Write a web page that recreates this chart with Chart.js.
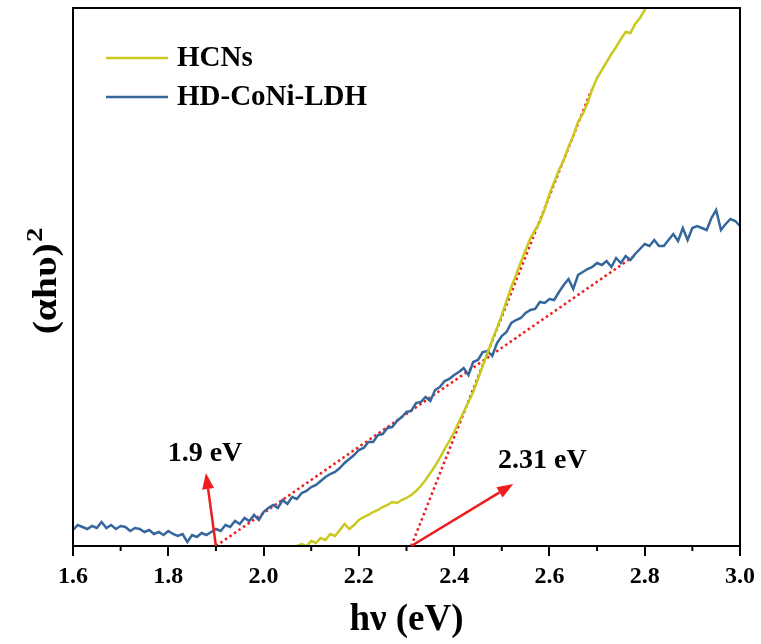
<!DOCTYPE html>
<html>
<head>
<meta charset="utf-8">
<script src="https://cdn.jsdelivr.net/npm/chart.js@4.4.1/dist/chart.umd.min.js"></script>
<style>
  html, body { margin: 0; padding: 0; background: #fff; }
  canvas { display: block; }
</style>
</head>
<body>
<canvas id="chart" width="761" height="644"></canvas>
<script>
// photon energy (eV) and (ahv)^2 in arbitrary units
const hvLDH = [
  1.60,1.61,1.62,1.63,1.64,1.65,1.66,1.67,1.68,1.69,
  1.70,1.71,1.72,1.73,1.74,1.75,1.76,1.77,1.78,1.79,
  1.80,1.81,1.82,1.83,1.84,1.85,1.86,1.87,1.88,1.89,
  1.90,1.91,1.92,1.93,1.94,1.95,1.96,1.97,1.98,1.99,
  2.00,2.01,2.02,2.03,2.04,2.05,2.06,2.07,2.08,2.09,
  2.10,2.11,2.12,2.13,2.14,2.15,2.16,2.17,2.18,2.19,
  2.20,2.21,2.22,2.23,2.24,2.25,2.26,2.27,2.28,2.29,
  2.30,2.31,2.32,2.33,2.34,2.35,2.36,2.37,2.38,2.39,
  2.40,2.41,2.42,2.43,2.44,2.45,2.46,2.47,2.48,2.49,
  2.50,2.51,2.52,2.53,2.54,2.55,2.56,2.57,2.58,2.59,
  2.60,2.61,2.62,2.63,2.64,2.65,2.66,2.67,2.68,2.69,
  2.70,2.71,2.72,2.73,2.74,2.75,2.76,2.77,2.78,2.79,
  2.80,2.81,2.82,2.83,2.84,2.85,2.86,2.87,2.88,2.89,
  2.90,2.91,2.92,2.93,2.94,2.95,2.96,2.97,2.98,2.99,
  3.00
];
const absLDH = [
  16,21,19,17,20,18,24,18,21,17,
  20,19,15,18,17,14,16,12,14,11,
  15,12,10,12,4,11,9,13,11,14,
  17,15,21,19,25,22,28,25,31,26,
  34,38,41,38,46,42,49,47,53,55,
  59,61,65,69,72,74,78,83,87,91,
  96,98,104,104,111,112,118,119,125,129,
  134,135,143,144,149,145,156,159,165,167,
  171,174,178,171,184,186,194,195,190,203,
  210,214,223,226,228,233,236,237,244,243,
  247,246,254,261,267,257,271,274,277,279,
  283,281,285,279,288,283,290,286,292,297,
  302,300,306,300,300,306,312,305,318,306,
  318,320,318,316,328,336,316,322,327,325,
  320
];

const hvHCN = [
  2.07,2.08,2.09,
  2.10,2.11,2.12,2.13,2.14,2.15,2.16,2.17,2.18,2.19,
  2.20,2.21,2.22,2.23,2.24,2.25,2.26,2.27,2.28,2.29,
  2.30,2.31,2.32,2.33,2.34,2.35,2.36,2.37,2.38,2.39,
  2.40,2.41,2.42,2.43,2.44,2.45,2.46,2.47,2.48,2.49,
  2.50,2.51,2.52,2.53,2.54,2.55,2.56,2.57,2.58,2.59,
  2.60,2.61,2.62,2.63,2.64,2.65,2.66,2.67,2.68,2.69,
  2.70,2.71,2.72,2.73,2.74,2.75,2.76,2.77,2.78,2.79,
  2.80,2.81
];
const absHCN = [
  0,2,0,
  5,3,8,6,12,10,16,22,17,21,
  26,29,31,34,36,39,41,44,43,46,
  48,51,55,60,66,73,80,88,97,105,
  114,124,134,144,154,167,180,193,206,218,
  231,245,259,271,284,296,308,316,324,337,
  352,364,376,386,399,410,424,432,443,457,
  468,476,484,492,499,507,514,513,522,528,
  536,545
];

// tangent (Tauc) lines
const fitLDHx = [1.90, 2.778];
const fitLDHy = [0, 290];
const fitHCNx = [2.31, 2.688];
const fitHCNy = [0, 456];

// band gap arrows: [x0, y0, x1, y1] and label position
const gapLabels = ['1.9 eV', '2.31 eV'];
const gapArrows = [[1.90, 0, 1.879, 73], [2.31, 0, 2.524, 62]];
const gapLabelPos = [[1.877, 92], [2.585, 85]];

const xTicks = [1.6, 1.8, 2.0, 2.2, 2.4, 2.6, 2.8, 3.0];
const xMinorTicks = [1.7, 1.9, 2.1, 2.3, 2.5, 2.7, 2.9];

const yTitle = '(αhυ)';
const yTitleSup = '2';

const yellow = '#c9c920';
const blue = '#35679d';
const red = '#ee1c1c';
const serif = "'Liberation Serif', 'Times New Roman', serif";

function pts(xs, ys) {
  return xs.map((v, i) => ({ x: v, y: ys[i] }));
}

function drawArrow(ctx, x1, y1, x2, y2) {
  const ang = Math.atan2(y2 - y1, x2 - x1);
  const head = 16, half = 6;
  const bx = x2 - head * Math.cos(ang), by = y2 - head * Math.sin(ang);
  ctx.beginPath();
  ctx.moveTo(x1, y1);
  ctx.lineTo(bx, by);
  ctx.stroke();
  ctx.beginPath();
  ctx.moveTo(x2, y2);
  ctx.lineTo(bx + half * Math.sin(ang), by - half * Math.cos(ang));
  ctx.lineTo(bx - half * Math.sin(ang), by + half * Math.cos(ang));
  ctx.closePath();
  ctx.fill();
}

const extras = {
  id: 'extras',
  afterDatasetsDraw(chart) {
    const { ctx, chartArea: a, scales: { x, y } } = chart;
    ctx.save();

    // frame
    ctx.strokeStyle = '#000';
    ctx.lineWidth = 2;
    ctx.strokeRect(a.left, a.top, a.right - a.left, a.bottom - a.top);

    // minor ticks
    xMinorTicks.forEach(v => {
      const px = x.getPixelForValue(v);
      ctx.beginPath();
      ctx.moveTo(px, a.bottom);
      ctx.lineTo(px, a.bottom + 5);
      ctx.stroke();
    });

    // arrows
    ctx.strokeStyle = red;
    ctx.fillStyle = red;
    ctx.lineWidth = 2.5;
    gapArrows.forEach(g => {
      drawArrow(ctx, x.getPixelForValue(g[0]), y.getPixelForValue(g[1]),
        x.getPixelForValue(g[2]), y.getPixelForValue(g[3]));
    });

    // arrow labels
    ctx.fillStyle = '#000';
    ctx.font = 'bold 28px ' + serif;
    ctx.textAlign = 'center';
    ctx.textBaseline = 'middle';
    gapLabels.forEach((t, i) => {
      ctx.fillText(t, x.getPixelForValue(gapLabelPos[i][0]), y.getPixelForValue(gapLabelPos[i][1]));
    });

    // legend
    const items = chart.data.datasets.filter(d => d.inLegend);
    ctx.font = 'bold 29px ' + serif;
    ctx.textAlign = 'left';
    items.forEach((d, i) => {
      const ly = a.top + 50 + i * 39;
      ctx.strokeStyle = d.borderColor;
      ctx.lineWidth = 2.5;
      ctx.beginPath();
      ctx.moveTo(a.left + 33, ly);
      ctx.lineTo(a.left + 95, ly);
      ctx.stroke();
      ctx.fillStyle = '#000';
      ctx.fillText(d.label, a.left + 104, ly + 1);
    });

    // y axis title with a full-size superscript
    ctx.save();
    ctx.translate(47, (a.top + a.bottom) / 2 + 4);
    ctx.rotate(-Math.PI / 2);
    ctx.scale(1.2, 1);
    ctx.fillStyle = '#000';
    ctx.textBaseline = 'middle';
    ctx.font = 'bold 33px ' + serif;
    const w1 = ctx.measureText(yTitle).width;
    ctx.font = 'bold 24px ' + serif;
    const w2 = ctx.measureText(yTitleSup).width;
    const x0 = -(w1 + w2 + 1) / 2;
    ctx.font = 'bold 33px ' + serif;
    ctx.fillText(yTitle, x0, 0);
    ctx.font = 'bold 24px ' + serif;
    ctx.fillText(yTitleSup, x0 + w1 + 1, -11);
    ctx.restore();

    ctx.restore();
  }
};

new Chart(document.getElementById('chart'), {
  type: 'line',
  data: {
    datasets: [
      { label: 'HCNs', data: pts(hvHCN, absHCN), borderColor: yellow, borderWidth: 2.5, inLegend: true },
      { label: 'HD-CoNi-LDH', data: pts(hvLDH, absLDH), borderColor: blue, borderWidth: 2.5, inLegend: true },
      { label: 'fit LDH', data: pts(fitLDHx, fitLDHy), borderColor: red, borderWidth: 2.5, borderDash: [2.5, 3] },
      { label: 'fit HCN', data: pts(fitHCNx, fitHCNy), borderColor: red, borderWidth: 2.5, borderDash: [2.5, 3] }
    ]
  },
  options: {
    responsive: false,
    animation: false,
    layout: { padding: { left: 0, right: 20, top: 8, bottom: 0 } },
    elements: { point: { radius: 0 }, line: { tension: 0, fill: false } },
    plugins: { legend: { display: false }, tooltip: { enabled: false } },
    scales: {
      x: {
        type: 'linear',
        min: 1.6,
        max: 3.0,
        afterBuildTicks: s => { s.ticks = xTicks.map(v => ({ value: v })); },
        afterFit: s => { s.height = 98; },
        border: { display: false },
        grid: { display: true, drawOnChartArea: false, drawTicks: true, tickLength: 10, lineWidth: 2, color: '#000' },
        ticks: {
          color: '#000',
          padding: 6,
          maxRotation: 0,
          font: { family: serif, size: 24, weight: 'bold' },
          callback: v => v.toFixed(1)
        },
        title: {
          display: true,
          text: 'hν (eV)',
          color: '#000',
          padding: { top: 0, bottom: 1 },
          font: { family: serif, size: 37, weight: 'bold' }
        }
      },
      y: {
        type: 'linear',
        min: 0,
        max: 538,
        afterFit: s => { s.width = 73; },
        border: { display: false },
        grid: { display: false },
        ticks: { display: false },
        title: { display: false }
      }
    }
  },
  plugins: [extras]
});
</script>
</body>
</html>
